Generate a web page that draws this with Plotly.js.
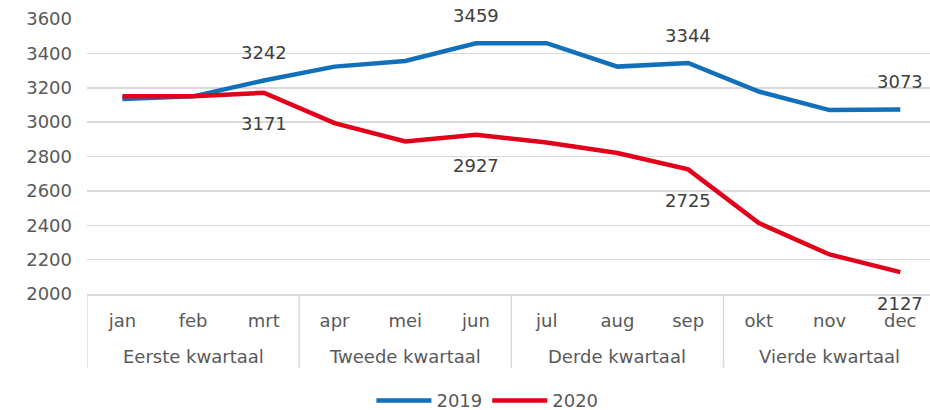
<!DOCTYPE html>
<html>
<head>
<meta charset="utf-8">
<script src="https://cdn.plot.ly/plotly-3.0.1.min.js"></script>
<style>html,body{margin:0;padding:0;background:#fff;}#chart{width:930px;height:410px;}</style>
</head>
<body>
<div id="chart"></div>
<script>
var quarters = ["Eerste kwartaal","Eerste kwartaal","Eerste kwartaal",
                "Tweede kwartaal","Tweede kwartaal","Tweede kwartaal",
                "Derde kwartaal","Derde kwartaal","Derde kwartaal",
                "Vierde kwartaal","Vierde kwartaal","Vierde kwartaal"];
var months = ["jan","feb","mrt","apr","mei","jun","jul","aug","sep","okt","nov","dec"];
var values2019 = [3135, 3150, 3242, 3323, 3356, 3459, 3459, 3323, 3344, 3178, 3070, 3073];
var values2020 = [3150, 3150, 3171, 2994, 2887, 2927, 2881, 2820, 2725, 2413, 2230, 2127];
var labelIdx = [2, 5, 8, 11];
var yTicks = [2000, 2200, 2400, 2600, 2800, 3000, 3200, 3400, 3600];

var blue = "#1170B9";
var red = "#E2001A";
var font = "DejaVu Sans, Verdana, sans-serif";
var grey = "#D9D9D9";

var traces = [
  {x: months, y: values2019, type: "scatter", mode: "lines", name: "2019",
   line: {color: blue, width: 4.5}},
  {x: months, y: values2020, type: "scatter", mode: "lines", name: "2020",
   line: {color: red, width: 4.5}}
];

var annotations = [];
labelIdx.forEach(function(i){
  annotations.push({x: i, y: values2019[i], xref: "x", yref: "y", text: String(values2019[i]),
    showarrow: false, yshift: 28, font: {family: font, size: 18, color: "#404040"}});
  annotations.push({x: i, y: values2020[i], xref: "x", yref: "y", text: String(values2020[i]),
    showarrow: false, yshift: -31, font: {family: font, size: 18, color: "#404040"}});
});

// quarter group labels and dividers, derived from the quarters array
var shapes = [];
var start = 0;
for (var i = 1; i <= quarters.length; i++) {
  if (i === quarters.length || quarters[i] !== quarters[start]) {
    annotations.push({x: (start + i - 1) / 2, y: -0.227, xref: "x", yref: "paper",
      yanchor: "middle", text: quarters[start], showarrow: false,
      font: {family: font, size: 18, color: "#595959"}});
    shapes.push({type: "line", xref: "x", yref: "paper", x0: start - 0.5, x1: start - 0.5,
      y0: 0, y1: -0.268, line: {color: grey, width: 1.5}});
    start = i;
  }
}

var layout = {
  width: 930, height: 410,
  margin: {l: 87, r: 0, t: 19, b: 116, autoexpand: false},
  paper_bgcolor: "#fff", plot_bgcolor: "#fff",
  font: {family: font, size: 18, color: "#595959"},
  showlegend: true,
  legend: {orientation: "h", x: 0.475, xanchor: "center", y: -0.388, yanchor: "middle",
           itemwidth: 55,
           font: {family: font, size: 18, color: "#595959"}},
  hovermode: false,
  xaxis: {
    type: "category",
    range: [-0.5, 11.42],
    showgrid: false, zeroline: false,
    showline: true, linecolor: grey, linewidth: 1.5,
    ticks: "", ticklabelstandoff: 10,
    tickfont: {family: font, size: 18, color: "#595959"}
  },
  yaxis: {
    range: [2000, 3600], tickvals: yTicks, ticktext: yTicks.map(String),
    showgrid: true, gridcolor: grey, gridwidth: 1.5,
    zeroline: false, showline: false, ticks: "", ticklabelstandoff: 14,
    tickfont: {family: font, size: 18, color: "#595959"}
  },
  annotations: annotations,
  shapes: shapes
};

Plotly.newPlot("chart", traces, layout, {displayModeBar: false, staticPlot: true});
</script>
</body>
</html>
